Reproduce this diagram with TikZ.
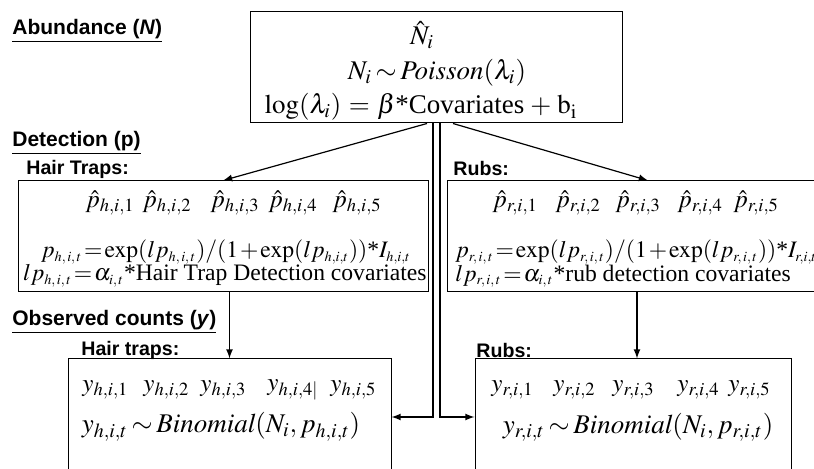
\documentclass[tikz,border=0pt]{standalone}
\usepackage{mathptmx}
\usepackage{fontspec}
\setmainfont{Liberation Serif}
\setsansfont{Liberation Sans}
\newcommand{\tast}{\mbox{*}}
\newcommand{\sbs}[1]{_{\scriptscriptstyle #1}}
\medmuskip=1.5mu
\thickmuskip=2.5mu

\begin{document}
\begin{tikzpicture}[x=0.5pt, y=-0.5pt,
  box/.style={draw, line width=0.5pt, inner sep=0pt},
  row/.style={font=\fontsize{12.5}{15}\selectfont, inner sep=0pt},
  bigrow/.style={row, font=\fontsize{13.5}{16}\selectfont},
  formula/.style={row, font=\fontsize{11.8}{14}\selectfont},
  head/.style={font=\fontsize{10.5}{12}\selectfont\sffamily\bfseries, anchor=west, inner sep=0pt},
  subhead/.style={head, font=\fontsize{9.8}{12}\selectfont\sffamily\bfseries},
  link/.style={line width=0.6pt, -latex}]
\useasboundingbox (0,0) rectangle (814,469);
\clip (0,0) rectangle (814,469);

% section and box headings
\foreach \nm/\y/\txt in {abund/31/{Abundance (\textit{N})},
                         detect/143/{Detection (p)},
                         observ/322/{Observed counts (\textit{y})}} {
  \node[head] (\nm) at (12,\y) {\underline{\txt}};
}
\foreach \nm/\x/\y/\txt in {hairhd/26/169/{Hair Traps:}, rubhd/453/169/{Rubs:},
                            hairobshd/81/350/{Hair traps:}, rubobshd/476/350/{Rubs:}} {
  \node[subhead] (\nm) at (\x,\y) {\txt};
}

% boxes
\node[box, minimum width=186pt, minimum height=55.5pt] (abox) at (436,67.5) {};
\node[box, minimum width=205pt, minimum height=55.5pt] (hdet) at (223,236.5) {};
\node[box, minimum width=201pt, minimum height=55.5pt] (rdet) at (648,236.5) {};
\node[box, minimum width=161.5pt, minimum height=58pt] (hobs) at (229.5,417) {};
\node[box, minimum width=158pt, minimum height=58pt] (robs) at (633,417) {};

% abundance
\node[bigrow] (nhat) at (422,35) {$\hat{N}_i$};
\node[bigrow] (npois) at (437,73) {$N_i \sim \mathit{Poisson}(\lambda_i)$};
\node[bigrow] (nlog) at (421,107)
  {$\thickmuskip=5mu\medmuskip=4mu \log(\lambda_i) = \beta\tast\mbox{Covariates} + \mathrm{b_i}$};

% detection
\foreach \k/\x in {1/85,2/142,3/210,4/268,5/332}
  \node[row, anchor=west] (hph\k) at (\x,203) {$\hat p_{h,i,\k}$};
\foreach \k/\x in {1/492,2/555,3/615,4/677,5/733}
  \node[row, anchor=west] (rph\k) at (\x,203) {$\hat p_{r,i,\k}$};
\node[formula] (hp) at (226,252)
  {$\thickmuskip=1.5mu p\sbs{h,\,i,\,t} = \exp(lp\sbs{h,\,i,\,t})/(1+\exp(lp\sbs{h,i,t}))\tast I\sbs{h,i,t}$};
\node[formula, anchor=east] (hlp) at (427,276)
  {$\thickmuskip=1.5mu lp\sbs{h,\,i,\,t} = \alpha\sbs{i,\,t}\tast\mbox{Hair Trap Detection covariates}$};
\node[formula, anchor=west] (rp) at (455,252)
  {$\thickmuskip=1.5mu p\sbs{r,\,i,\,t} = \exp(lp\sbs{r,\,i,\,t})/(1+\exp(lp\sbs{r,\,i,\,t}))\tast I\sbs{r,i,t}$};
\node[formula, anchor=west] (rlp) at (455,276)
  {$\thickmuskip=1.5mu lp\sbs{r,\,i,\,t} = \alpha\sbs{i,\,t}\tast\mbox{rub detection covariates}$};

% observed counts
\foreach \k/\x/\sfx in {1/82/,2/143/,3/200/,4/267/\vert,5/330/}
  \node[row, anchor=west] (hy\k) at (\x,390) {$y_{h,i,\k\sfx}$};
\foreach \k/\x in {1/491,2/553,3/612,4/677,5/728}
  \node[row, anchor=west] (ry\k) at (\x,390) {$y_{r,i,\k}$};
\node[bigrow] (hbin) at (221,427) {$y_{h,i,t} \sim \mathit{Binomial}(N_i, p_{h,i,t})$};
\node[bigrow] (rbin) at (638,427) {$y_{r,i,t} \sim \mathit{Binomial}(N_i, p_{r,i,t})$};

% connectors
\draw[link] ([xshift=-4.5pt]abox.south) -- (hdet.north);
\draw[link] ([xshift=8.5pt]abox.south) -- (rdet.north);
\draw[link] ([xshift=-1.5pt]abox.south) |- (hobs.east);
\draw[link] ([xshift=2pt]abox.south) |- (robs.west);
\draw[link] (hdet.south -| hobs.north) -- (hobs.north);
\draw[link] ([xshift=2pt]robs.north |- rdet.south) -- ([xshift=2pt]robs.north);
\end{tikzpicture}
\end{document}
